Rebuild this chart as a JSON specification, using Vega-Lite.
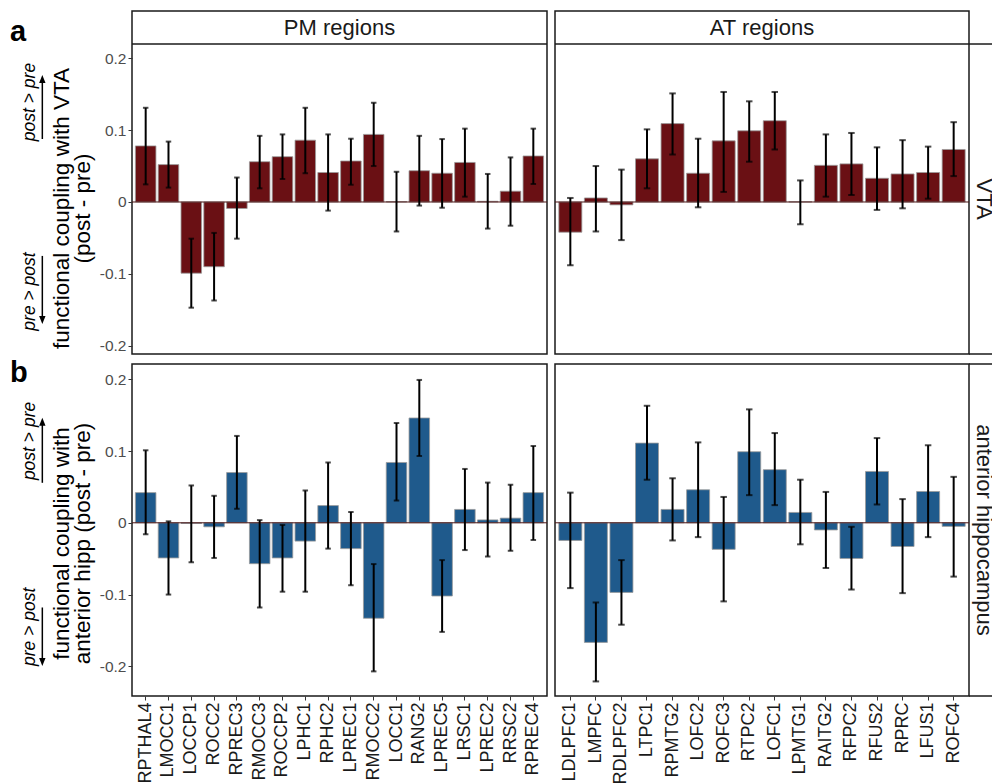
{
  "$schema": "https://vega.github.io/schema/vega-lite/v6.json",
  "padding": {"left": 10, "top": 10, "right": 0, "bottom": 0},
  "background": "white",
  "config": {
    "font": "Liberation Sans",
    "view": {"stroke": "#1a1a1a", "strokeWidth": 1.5},
    "axis": {"grid": false, "domain": false}
  },
  "datasets": {
    "pm_vta": [
      {"region": "RPTHAL4", "mean": 0.078, "lo": 0.0245, "hi": 0.131},
      {"region": "LMOCC1", "mean": 0.052, "lo": 0.020, "hi": 0.084},
      {"region": "LOCCP1", "mean": -0.099, "lo": -0.147, "hi": -0.051},
      {"region": "ROCC2", "mean": -0.090, "lo": -0.137, "hi": -0.043},
      {"region": "RPREC3", "mean": -0.009, "lo": -0.051, "hi": 0.034},
      {"region": "RMOCC3", "mean": 0.056, "lo": 0.019, "hi": 0.092},
      {"region": "ROCCP2", "mean": 0.063, "lo": 0.032, "hi": 0.094},
      {"region": "LPHC1", "mean": 0.086, "lo": 0.040, "hi": 0.131},
      {"region": "RPHC2", "mean": 0.041, "lo": -0.012, "hi": 0.094},
      {"region": "LPREC1", "mean": 0.057, "lo": 0.024, "hi": 0.088},
      {"region": "RMOCC2", "mean": 0.094, "lo": 0.050, "hi": 0.138},
      {"region": "LOCC1", "mean": 0.0005, "lo": -0.041, "hi": 0.042},
      {"region": "RANG2", "mean": 0.0435, "lo": -0.005, "hi": 0.092},
      {"region": "LPREC5", "mean": 0.040, "lo": -0.008, "hi": 0.0875},
      {"region": "LRSC1", "mean": 0.055, "lo": 0.0074, "hi": 0.102},
      {"region": "LPREC2", "mean": 0.001, "lo": -0.037, "hi": 0.039},
      {"region": "RRSC2", "mean": 0.015, "lo": -0.033, "hi": 0.062},
      {"region": "RPREC4", "mean": 0.064, "lo": 0.025, "hi": 0.102}
    ],
    "at_vta": [
      {"region": "LDLPFC1", "mean": -0.042, "lo": -0.088, "hi": 0.0056},
      {"region": "LMPFC", "mean": 0.0056, "lo": -0.041, "hi": 0.050},
      {"region": "RDLPFC2", "mean": -0.004, "lo": -0.053, "hi": 0.045},
      {"region": "LTPC1", "mean": 0.060, "lo": 0.019, "hi": 0.101},
      {"region": "RPMTG2", "mean": 0.109, "lo": 0.066, "hi": 0.151},
      {"region": "LOFC2", "mean": 0.040, "lo": -0.0074, "hi": 0.088},
      {"region": "ROFC3", "mean": 0.085, "lo": 0.014, "hi": 0.153},
      {"region": "RTPC2", "mean": 0.099, "lo": 0.056, "hi": 0.140},
      {"region": "LOFC1", "mean": 0.113, "lo": 0.073, "hi": 0.153},
      {"region": "LPMTG1", "mean": 0.0003, "lo": -0.031, "hi": 0.030},
      {"region": "RAITG2", "mean": 0.051, "lo": 0.0074, "hi": 0.094},
      {"region": "RFPC2", "mean": 0.053, "lo": 0.0097, "hi": 0.096},
      {"region": "RFUS2", "mean": 0.033, "lo": -0.011, "hi": 0.076},
      {"region": "RPRC", "mean": 0.039, "lo": -0.0088, "hi": 0.086},
      {"region": "LFUS1", "mean": 0.041, "lo": 0.0046, "hi": 0.077},
      {"region": "ROFC4", "mean": 0.073, "lo": 0.036, "hi": 0.111}
    ],
    "pm_hipp": [
      {"region": "RPTHAL4", "mean": 0.042, "lo": -0.016, "hi": 0.101},
      {"region": "LMOCC1", "mean": -0.049, "lo": -0.100, "hi": 0.002},
      {"region": "LOCCP1", "mean": -0.001, "lo": -0.055, "hi": 0.052},
      {"region": "ROCC2", "mean": -0.0056, "lo": -0.049, "hi": 0.0376},
      {"region": "RPREC3", "mean": 0.070, "lo": 0.0195, "hi": 0.121},
      {"region": "RMOCC3", "mean": -0.057, "lo": -0.118, "hi": 0.0037},
      {"region": "ROCCP2", "mean": -0.049, "lo": -0.096, "hi": -0.003},
      {"region": "LPHC1", "mean": -0.0255, "lo": -0.096, "hi": 0.045},
      {"region": "RPHC2", "mean": 0.024, "lo": -0.036, "hi": 0.084},
      {"region": "LPREC1", "mean": -0.036, "lo": -0.087, "hi": 0.015},
      {"region": "RMOCC2", "mean": -0.133, "lo": -0.207, "hi": -0.0575},
      {"region": "LOCC1", "mean": 0.084, "lo": 0.031, "hi": 0.139},
      {"region": "RANG2", "mean": 0.146, "lo": 0.093, "hi": 0.199},
      {"region": "LPREC5", "mean": -0.102, "lo": -0.152, "hi": -0.052},
      {"region": "LRSC1", "mean": 0.0186, "lo": -0.038, "hi": 0.075},
      {"region": "LPREC2", "mean": 0.004, "lo": -0.047, "hi": 0.056},
      {"region": "RRSC2", "mean": 0.0065, "lo": -0.039, "hi": 0.053},
      {"region": "RPREC4", "mean": 0.042, "lo": -0.024, "hi": 0.107}
    ],
    "at_hipp": [
      {"region": "LDLPFC1", "mean": -0.0246, "lo": -0.091, "hi": 0.042},
      {"region": "LMPFC", "mean": -0.1666, "lo": -0.221, "hi": -0.111},
      {"region": "RDLPFC2", "mean": -0.097, "lo": -0.142, "hi": -0.052},
      {"region": "LTPC1", "mean": 0.111, "lo": 0.060, "hi": 0.163},
      {"region": "RPMTG2", "mean": 0.0186, "lo": -0.0246, "hi": 0.062},
      {"region": "LOFC2", "mean": 0.046, "lo": -0.020, "hi": 0.112},
      {"region": "ROFC3", "mean": -0.037, "lo": -0.1095, "hi": 0.036},
      {"region": "RTPC2", "mean": 0.099, "lo": 0.0385, "hi": 0.158},
      {"region": "LOFC1", "mean": 0.074, "lo": 0.0246, "hi": 0.125},
      {"region": "LPMTG1", "mean": 0.0144, "lo": -0.030, "hi": 0.060},
      {"region": "RAITG2", "mean": -0.010, "lo": -0.063, "hi": 0.043},
      {"region": "RFPC2", "mean": -0.0497, "lo": -0.093, "hi": -0.0056},
      {"region": "RFUS2", "mean": 0.0715, "lo": 0.0255, "hi": 0.118},
      {"region": "RPRC", "mean": -0.033, "lo": -0.098, "hi": 0.033},
      {"region": "LFUS1", "mean": 0.0436, "lo": -0.020, "hi": 0.108},
      {"region": "ROFC4", "mean": -0.005, "lo": -0.075, "hi": 0.064}
    ]
  },
  "columns": 5,
  "spacing": {"row": 10, "column": 0},
  "bounds": "flush",
  "align": "each",
  "concat": [
    {
      "width": 122, "height": 343, "view": {"stroke": null},
      "data": {"values": [{}]},
      "layer": [
        {"mark": {"type": "text", "text": "a", "fontSize": 29, "fontWeight": "bold", "align": "left", "baseline": "middle", "color": "#000"},
         "encoding": {"x": {"datum": 0, "type": "quantitative", "scale": {"domain": [0, 1]}, "axis": null},
                      "y": {"datum": 0.2369, "type": "quantitative", "scale": {"domain": [-0.2114, 0.2656], "nice": false}, "axis": null}}},
        {"mark": {"type": "text", "text": "post > pre", "fontSize": 17.5, "fontStyle": "italic", "angle": 270, "align": "center", "baseline": "middle", "color": "#000"},
         "encoding": {"x": {"datum": 0.164, "type": "quantitative", "scale": {"domain": [0, 1]}, "axis": null},
                      "y": {"datum": 0.139, "type": "quantitative", "scale": {"domain": [-0.2114, 0.2656], "nice": false}, "axis": null}}},
        {"mark": {"type": "text", "text": "pre > post", "fontSize": 17.5, "fontStyle": "italic", "angle": 270, "align": "center", "baseline": "middle", "color": "#000"},
         "encoding": {"x": {"datum": 0.164, "type": "quantitative", "scale": {"domain": [0, 1]}, "axis": null},
                      "y": {"datum": -0.1245, "type": "quantitative", "scale": {"domain": [-0.2114, 0.2656], "nice": false}, "axis": null}}},
        {"mark": {"type": "rule", "color": "#000", "strokeWidth": 1.5},
         "encoding": {"x": {"datum": 0.265, "type": "quantitative", "scale": {"domain": [0, 1]}, "axis": null},
                      "y": {"datum": 0.0876, "type": "quantitative", "scale": {"domain": [-0.2114, 0.2656], "nice": false}, "axis": null},
                      "y2": {"datum": 0.171}}},
        {"mark": {"type": "point", "shape": "M0,-1L0.8,1L-0.8,1Z", "size": 64, "filled": true, "opacity": 1, "color": "#000"},
         "encoding": {"x": {"datum": 0.265, "type": "quantitative", "scale": {"domain": [0, 1]}, "axis": null},
                      "y": {"datum": 0.171, "type": "quantitative", "scale": {"domain": [-0.2114, 0.2656], "nice": false}, "axis": null}}},
        {"mark": {"type": "rule", "color": "#000", "strokeWidth": 1.5},
         "encoding": {"x": {"datum": 0.265, "type": "quantitative", "scale": {"domain": [0, 1]}, "axis": null},
                      "y": {"datum": -0.075, "type": "quantitative", "scale": {"domain": [-0.2114, 0.2656], "nice": false}, "axis": null},
                      "y2": {"datum": -0.164}}},
        {"mark": {"type": "point", "shape": "M0,1L0.8,-1L-0.8,-1Z", "size": 64, "filled": true, "opacity": 1, "color": "#000"},
         "encoding": {"x": {"datum": 0.265, "type": "quantitative", "scale": {"domain": [0, 1]}, "axis": null},
                      "y": {"datum": -0.164, "type": "quantitative", "scale": {"domain": [-0.2114, 0.2656], "nice": false}, "axis": null}}}
      ]
    },
    {
      "width": 415, "height": 343,
      "data": {"name": "pm_vta"},
      "resolve": {"axis": {"x": "independent", "y": "independent"}},
      "layer": [
        {"mark": {"type": "bar", "color": "#6a1014", "stroke": "#9a9a9a", "strokeWidth": 0.8},
         "encoding": {
           "x": {"field": "region", "type": "nominal", "sort": null, "scale": {"paddingInner": 0.1, "paddingOuter": 0.15}, "axis": null},
           "y": {"field": "mean", "type": "quantitative", "scale": {"domain": [-0.2114, 0.2656], "nice": false},
                 "axis": {"values": [-0.2, -0.1, 0, 0.1, 0.2], "labelExpr": "toString(round(datum.value*10)/10)",
                          "labelFontSize": 15.5, "labelColor": "#4d4d4d", "labelPadding": 2, "tickSize": 4, "tickColor": "#333", "tickWidth": 1,
                          "title": ["functional coupling with VTA", "(post - pre)"], "titleFontSize": 22.5, "titleFontWeight": "normal",
                          "titleColor": "#000", "titleLineHeight": 21, "titlePadding": 5, "titleY": 197}}}},
        {"data": {"values": [{}]},
         "mark": {"type": "rule", "color": "#4d1616", "strokeWidth": 1},
         "encoding": {"y": {"datum": 0, "type": "quantitative", "scale": {"domain": [-0.2114, 0.2656], "nice": false}, "axis": null}}},
        {"mark": {"type": "errorbar", "color": "#000", "ticks": {"size": 5.5, "thickness": 2}, "rule": {"strokeWidth": 2}},
         "encoding": {
           "x": {"field": "region", "type": "nominal", "sort": null, "axis": null},
           "y": {"field": "lo", "type": "quantitative", "scale": {"domain": [-0.2114, 0.2656], "nice": false}, "axis": null},
           "y2": {"field": "hi"}}},
        {"data": {"values": [{}]},
         "mark": {"type": "rule", "color": "#1a1a1a", "strokeWidth": 1.5},
         "encoding": {"y": {"datum": 0.2197, "type": "quantitative", "scale": {"domain": [-0.2114, 0.2656], "nice": false}, "axis": null}}},
        {"data": {"values": [{"label": "PM regions"}]},
         "mark": {"type": "text", "fontSize": 22, "color": "#1a1a1a", "baseline": "middle"},
         "encoding": {"text": {"field": "label"},
                      "y": {"datum": 0.24265, "type": "quantitative", "scale": {"domain": [-0.2114, 0.2656], "nice": false}, "axis": null}}}
      ]
    },
    {
      "width": 8, "height": 343, "view": {"stroke": null},
      "data": {"values": [{}]},
      "mark": {"type": "text", "text": ""}
    },
    {
      "width": 414, "height": 343,
      "data": {"name": "at_vta"},
      "resolve": {"axis": {"x": "independent", "y": "independent"}},
      "layer": [
        {"mark": {"type": "bar", "color": "#6a1014", "stroke": "#9a9a9a", "strokeWidth": 0.8},
         "encoding": {
           "x": {"field": "region", "type": "nominal", "sort": null, "scale": {"paddingInner": 0.1, "paddingOuter": 0.15}, "axis": null},
           "y": {"field": "mean", "type": "quantitative", "scale": {"domain": [-0.2114, 0.2656], "nice": false}, "axis": null}}},
        {"data": {"values": [{}]},
         "mark": {"type": "rule", "color": "#4d1616", "strokeWidth": 1},
         "encoding": {"y": {"datum": 0, "type": "quantitative", "scale": {"domain": [-0.2114, 0.2656], "nice": false}, "axis": null}}},
        {"mark": {"type": "errorbar", "color": "#000", "ticks": {"size": 6.5, "thickness": 2}, "rule": {"strokeWidth": 2}},
         "encoding": {
           "x": {"field": "region", "type": "nominal", "sort": null, "axis": null},
           "y": {"field": "lo", "type": "quantitative", "scale": {"domain": [-0.2114, 0.2656], "nice": false}, "axis": null},
           "y2": {"field": "hi"}}},
        {"data": {"values": [{}]},
         "mark": {"type": "rule", "color": "#1a1a1a", "strokeWidth": 1.5},
         "encoding": {"y": {"datum": 0.2197, "type": "quantitative", "scale": {"domain": [-0.2114, 0.2656], "nice": false}, "axis": null}}},
        {"data": {"values": [{"label": "AT regions"}]},
         "mark": {"type": "text", "fontSize": 22, "color": "#1a1a1a", "baseline": "middle"},
         "encoding": {"text": {"field": "label"},
                      "y": {"datum": 0.24265, "type": "quantitative", "scale": {"domain": [-0.2114, 0.2656], "nice": false}, "axis": null}}}
      ]
    },
    {
      "width": 23, "height": 343, "view": {"stroke": null},
      "data": {"values": [{"label": "VTA"}]},
      "layer": [
        {"mark": {"type": "rule", "color": "#1a1a1a", "strokeWidth": 1.5},
         "encoding": {"y": {"datum": 0.2197, "type": "quantitative", "scale": {"domain": [-0.2114, 0.2656], "nice": false}, "axis": null}}},
        {"mark": {"type": "rule", "color": "#1a1a1a", "strokeWidth": 1.5},
         "encoding": {"y": {"datum": -0.2114, "type": "quantitative", "scale": {"domain": [-0.2114, 0.2656], "nice": false}, "axis": null}}},
        {"mark": {"type": "text", "fontSize": 22, "color": "#1a1a1a", "angle": 90, "align": "center", "baseline": "middle", "dy": -3.5, "clip": true},
         "encoding": {"text": {"field": "label"},
                      "y": {"datum": 0.004, "type": "quantitative", "scale": {"domain": [-0.2114, 0.2656], "nice": false}, "axis": null}}}
      ]
    },
    {
      "width": 122, "height": 332, "view": {"stroke": null},
      "data": {"values": [{}]},
      "layer": [
        {"mark": {"type": "text", "text": "b", "fontSize": 29, "fontWeight": "bold", "align": "left", "baseline": "middle", "color": "#000"},
         "encoding": {"x": {"datum": 0, "type": "quantitative", "scale": {"domain": [0, 1]}, "axis": null},
                      "y": {"datum": 0.209, "type": "quantitative", "scale": {"domain": [-0.2413, 0.2212], "nice": false}, "axis": null}}},
        {"mark": {"type": "text", "text": "post > pre", "fontSize": 17.5, "fontStyle": "italic", "angle": 270, "align": "center", "baseline": "middle", "color": "#000"},
         "encoding": {"x": {"datum": 0.164, "type": "quantitative", "scale": {"domain": [0, 1]}, "axis": null},
                      "y": {"datum": 0.114, "type": "quantitative", "scale": {"domain": [-0.2413, 0.2212], "nice": false}, "axis": null}}},
        {"mark": {"type": "text", "text": "pre > post", "fontSize": 17.5, "fontStyle": "italic", "angle": 270, "align": "center", "baseline": "middle", "color": "#000"},
         "encoding": {"x": {"datum": 0.164, "type": "quantitative", "scale": {"domain": [0, 1]}, "axis": null},
                      "y": {"datum": -0.145, "type": "quantitative", "scale": {"domain": [-0.2413, 0.2212], "nice": false}, "axis": null}}},
        {"mark": {"type": "rule", "color": "#000", "strokeWidth": 1.5},
         "encoding": {"x": {"datum": 0.265, "type": "quantitative", "scale": {"domain": [0, 1]}, "axis": null},
                      "y": {"datum": 0.0557, "type": "quantitative", "scale": {"domain": [-0.2413, 0.2212], "nice": false}, "axis": null},
                      "y2": {"datum": 0.1408}}},
        {"mark": {"type": "point", "shape": "M0,-1L0.8,1L-0.8,1Z", "size": 64, "filled": true, "opacity": 1, "color": "#000"},
         "encoding": {"x": {"datum": 0.265, "type": "quantitative", "scale": {"domain": [0, 1]}, "axis": null},
                      "y": {"datum": 0.1408, "type": "quantitative", "scale": {"domain": [-0.2413, 0.2212], "nice": false}, "axis": null}}},
        {"mark": {"type": "rule", "color": "#000", "strokeWidth": 1.5},
         "encoding": {"x": {"datum": 0.265, "type": "quantitative", "scale": {"domain": [0, 1]}, "axis": null},
                      "y": {"datum": -0.118, "type": "quantitative", "scale": {"domain": [-0.2413, 0.2212], "nice": false}, "axis": null},
                      "y2": {"datum": -0.194}}},
        {"mark": {"type": "point", "shape": "M0,1L0.8,-1L-0.8,-1Z", "size": 64, "filled": true, "opacity": 1, "color": "#000"},
         "encoding": {"x": {"datum": 0.265, "type": "quantitative", "scale": {"domain": [0, 1]}, "axis": null},
                      "y": {"datum": -0.194, "type": "quantitative", "scale": {"domain": [-0.2413, 0.2212], "nice": false}, "axis": null}}}
      ]
    },
    {
      "width": 415, "height": 332,
      "data": {"name": "pm_hipp"},
      "resolve": {"axis": {"x": "independent", "y": "independent"}},
      "layer": [
        {"mark": {"type": "bar", "color": "#1f5a8c", "stroke": "#9a9a9a", "strokeWidth": 0.8},
         "encoding": {
           "x": {"field": "region", "type": "nominal", "sort": null, "scale": {"paddingInner": 0.1, "paddingOuter": 0.15},
                 "axis": {"title": null, "labelAngle": 270, "labelFontSize": 18, "labelColor": "#1a1a1a", "labelPadding": 2,
                          "tickSize": 4, "tickColor": "#333", "tickWidth": 1, "labelOverlap": false, "labelBound": false, "labelFlush": false}},
           "y": {"field": "mean", "type": "quantitative", "scale": {"domain": [-0.2413, 0.2212], "nice": false},
                 "axis": {"values": [-0.2, -0.1, 0, 0.1, 0.2], "labelExpr": "toString(round(datum.value*10)/10)",
                          "labelFontSize": 15.5, "labelColor": "#4d4d4d", "labelPadding": 2, "tickSize": 4, "tickColor": "#333", "tickWidth": 1,
                          "title": ["functional coupling with", "anterior hipp (post - pre)"], "titleFontSize": 22.5, "titleFontWeight": "normal",
                          "titleColor": "#000", "titleLineHeight": 21, "titlePadding": 5, "titleY": 179}}}},
        {"data": {"values": [{}]},
         "mark": {"type": "rule", "color": "#4d1616", "strokeWidth": 1},
         "encoding": {"y": {"datum": 0, "type": "quantitative", "scale": {"domain": [-0.2413, 0.2212], "nice": false}, "axis": null}}},
        {"mark": {"type": "errorbar", "color": "#000", "ticks": {"size": 5.5, "thickness": 2}, "rule": {"strokeWidth": 2}},
         "encoding": {
           "x": {"field": "region", "type": "nominal", "sort": null, "axis": null},
           "y": {"field": "lo", "type": "quantitative", "scale": {"domain": [-0.2413, 0.2212], "nice": false}, "axis": null},
           "y2": {"field": "hi"}}}
      ]
    },
    {
      "width": 8, "height": 332, "view": {"stroke": null},
      "data": {"values": [{}]},
      "mark": {"type": "text", "text": ""}
    },
    {
      "width": 414, "height": 332,
      "data": {"name": "at_hipp"},
      "resolve": {"axis": {"x": "independent", "y": "independent"}},
      "layer": [
        {"mark": {"type": "bar", "color": "#1f5a8c", "stroke": "#9a9a9a", "strokeWidth": 0.8},
         "encoding": {
           "x": {"field": "region", "type": "nominal", "sort": null, "scale": {"paddingInner": 0.1, "paddingOuter": 0.15},
                 "axis": {"title": null, "labelAngle": 270, "labelFontSize": 18, "labelColor": "#1a1a1a", "labelPadding": 2,
                          "tickSize": 4, "tickColor": "#333", "tickWidth": 1, "labelOverlap": false, "labelBound": false, "labelFlush": false}},
           "y": {"field": "mean", "type": "quantitative", "scale": {"domain": [-0.2413, 0.2212], "nice": false}, "axis": null}}},
        {"data": {"values": [{}]},
         "mark": {"type": "rule", "color": "#4d1616", "strokeWidth": 1},
         "encoding": {"y": {"datum": 0, "type": "quantitative", "scale": {"domain": [-0.2413, 0.2212], "nice": false}, "axis": null}}},
        {"mark": {"type": "errorbar", "color": "#000", "ticks": {"size": 6.5, "thickness": 2}, "rule": {"strokeWidth": 2}},
         "encoding": {
           "x": {"field": "region", "type": "nominal", "sort": null, "axis": null},
           "y": {"field": "lo", "type": "quantitative", "scale": {"domain": [-0.2413, 0.2212], "nice": false}, "axis": null},
           "y2": {"field": "hi"}}}
      ]
    },
    {
      "width": 23, "height": 332, "view": {"stroke": null},
      "data": {"values": [{"label": "anterior hippocampus"}]},
      "layer": [
        {"mark": {"type": "rule", "color": "#1a1a1a", "strokeWidth": 1.5},
         "encoding": {"y": {"datum": 0.2212, "type": "quantitative", "scale": {"domain": [-0.2413, 0.2212], "nice": false}, "axis": null}}},
        {"mark": {"type": "rule", "color": "#1a1a1a", "strokeWidth": 1.5},
         "encoding": {"y": {"datum": -0.2413, "type": "quantitative", "scale": {"domain": [-0.2413, 0.2212], "nice": false}, "axis": null}}},
        {"mark": {"type": "text", "fontSize": 22, "color": "#1a1a1a", "angle": 90, "align": "center", "baseline": "middle", "dy": -3.5, "clip": true},
         "encoding": {"text": {"field": "label"},
                      "y": {"datum": -0.01005, "type": "quantitative", "scale": {"domain": [-0.2413, 0.2212], "nice": false}, "axis": null}}}
      ]
    }
  ]
}
